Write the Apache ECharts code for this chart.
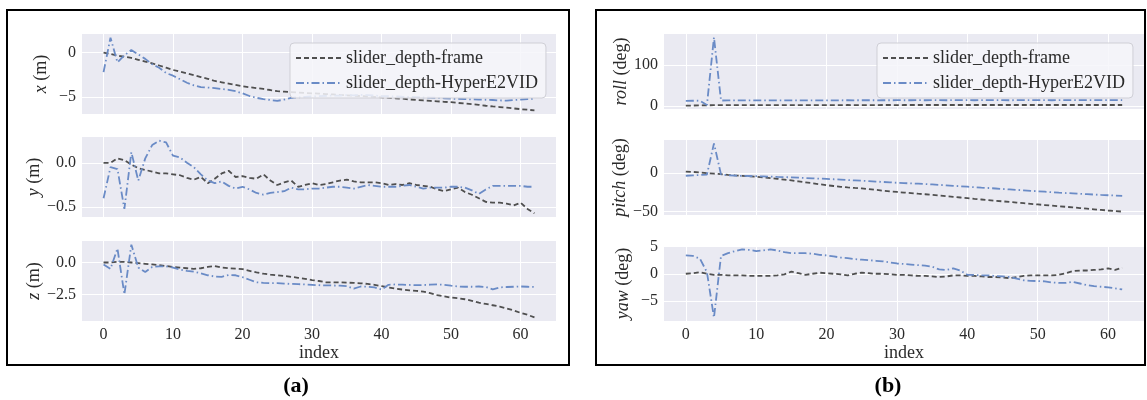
<!DOCTYPE html>
<html>
<head>
<meta charset="utf-8">
<script src="https://cdn.jsdelivr.net/npm/echarts@6/dist/echarts.min.js"></script>
<style>
  html, body { margin: 0; padding: 0; background: #ffffff; }
  #chart { width: 1147px; height: 400px; }
</style>
</head>
<body>
<div id="chart"></div>
<script>
// Frame index along the trajectory
const index = [0,1,2,3,4,5,6,7,8,9,10,11,12,13,14,15,16,17,18,19,20,21,22,23,24,25,26,27,28,29,30,
  31,32,33,34,35,36,37,38,39,40,41,42,43,44,45,46,47,48,49,50,51,52,53,54,55,56,57,58,59,60,61,62];
const indexTicks = [0, 10, 20, 30, 40, 50, 60];

// Translation (m)
const xFrame = [0.00,-0.15,-0.35,-0.45,-0.60,-0.80,-1.00,-1.20,-1.45,-1.70,-1.95,-2.15,-2.35,-2.55,-2.75,-2.95,
  -3.20,-3.35,-3.50,-3.65,-3.80,-3.90,-4.00,-4.10,-4.22,-4.35,-4.40,-4.45,-4.50,-4.55,-4.60,-4.62,-4.68,-4.72,
  -4.78,-4.82,-4.86,-4.90,-4.95,-5.00,-5.05,-5.10,-5.15,-5.20,-5.28,-5.35,-5.40,-5.45,-5.50,-5.55,-5.60,-5.68,
  -5.75,-5.82,-5.90,-6.00,-6.08,-6.15,-6.22,-6.30,-6.38,-6.45,-6.52];
const xHyper = [-2.20,1.70,-1.10,-0.30,0.30,-0.20,-0.70,-1.30,-1.70,-2.30,-2.60,-3.00,-3.40,-3.70,-3.90,-3.95,
  -4.00,-4.10,-4.20,-4.35,-4.60,-4.90,-5.10,-5.25,-5.35,-5.45,-5.30,-5.10,-5.05,-5.00,-4.95,-4.92,-4.88,-4.85,
  -4.85,-4.80,-4.82,-4.78,-4.80,-4.85,-4.90,-4.92,-4.95,-4.98,-5.00,-5.02,-5.05,-5.08,-5.10,-5.15,-5.20,-5.22,
  -5.25,-5.28,-5.30,-5.32,-5.35,-5.40,-5.42,-5.35,-5.30,-5.25,-5.20];
const xTicks = [-5, 0];

const yFrame = [0.00,0.00,0.05,0.03,-0.02,-0.06,-0.08,-0.10,-0.12,-0.12,-0.13,-0.14,-0.17,-0.19,-0.16,-0.23,
  -0.18,-0.12,-0.09,-0.16,-0.15,-0.17,-0.18,-0.13,-0.20,-0.25,-0.22,-0.20,-0.27,-0.25,-0.23,-0.25,-0.24,-0.22,
  -0.20,-0.19,-0.21,-0.22,-0.22,-0.22,-0.23,-0.25,-0.24,-0.25,-0.23,-0.25,-0.26,-0.27,-0.30,-0.32,-0.30,-0.28,
  -0.33,-0.36,-0.40,-0.44,-0.45,-0.45,-0.46,-0.48,-0.45,-0.52,-0.57];
const yHyper = [-0.40,-0.05,-0.07,-0.52,0.12,-0.20,0.05,0.20,0.25,0.23,0.08,0.06,0.00,-0.05,-0.13,-0.20,
  -0.23,-0.21,-0.26,-0.29,-0.27,-0.30,-0.34,-0.36,-0.34,-0.33,-0.32,-0.28,-0.30,-0.30,-0.29,-0.29,-0.28,-0.27,
  -0.27,-0.28,-0.29,-0.27,-0.25,-0.26,-0.27,-0.27,-0.27,-0.26,-0.25,-0.27,-0.29,-0.28,-0.28,-0.28,-0.27,-0.27,
  -0.28,-0.31,-0.35,-0.30,-0.26,-0.26,-0.26,-0.26,-0.26,-0.27,-0.27];
const yTicks = [-0.5, 0.0];

const zFrame = [0.00,0.00,0.05,0.05,0.00,-0.05,-0.10,-0.15,-0.20,-0.28,-0.35,-0.40,-0.45,-0.50,-0.45,-0.35,
  -0.28,-0.40,-0.45,-0.48,-0.52,-0.65,-0.78,-0.88,-0.95,-1.00,-1.05,-1.12,-1.20,-1.28,-1.38,-1.45,-1.55,-1.55,
  -1.56,-1.58,-1.60,-1.63,-1.68,-1.75,-1.85,-1.95,-2.05,-2.12,-2.18,-2.22,-2.28,-2.40,-2.55,-2.65,-2.75,-2.80,
  -2.88,-3.00,-3.15,-3.25,-3.35,-3.45,-3.60,-3.75,-3.95,-4.10,-4.30];
const zHyper = [-0.15,-0.50,1.10,-2.50,1.40,-0.40,-0.75,-0.35,-0.30,-0.30,-0.40,-0.55,-0.65,-0.72,-0.85,-1.00,
  -1.10,-1.12,-0.98,-1.00,-1.15,-1.35,-1.55,-1.60,-1.62,-1.62,-1.65,-1.68,-1.70,-1.72,-1.75,-1.78,-1.80,-1.80,
  -1.82,-1.85,-2.05,-1.88,-1.90,-1.95,-2.12,-1.75,-1.72,-1.74,-1.76,-1.78,-1.77,-1.74,-1.72,-1.75,-1.82,-1.88,
  -1.90,-1.90,-1.88,-1.92,-2.10,-1.95,-1.92,-1.90,-1.88,-1.90,-1.92];
const zTicks = [-2.5, 0.0];

// Rotation (deg)
const rollFrame = [1.0,1.2,1.5,1.8,2.0,2.0,2.1,2.0,2.1,2.2,2.1,2.2,2.2,2.1,2.2,2.3,2.2,2.3,2.2,2.3,2.3,2.2,
  2.3,2.4,2.3,2.3,2.4,2.3,2.4,2.4,2.3,2.4,2.4,2.5,2.4,2.4,2.5,2.4,2.5,2.5,2.4,2.5,2.5,2.4,2.5,2.5,2.5,2.4,2.5,
  2.5,2.5,2.4,2.5,2.5,2.5,2.5,2.4,2.5,2.5,2.5,2.5,2.5,2.5];
const rollHyper = [12.5,12.8,13.0,2.5,168.0,13.5,13.6,13.7,13.6,13.7,13.8,13.7,13.8,13.8,13.9,13.8,13.9,13.9,
  14.0,13.9,14.0,14.0,14.0,14.1,14.0,14.1,14.1,14.0,14.1,14.1,14.2,14.1,14.1,14.2,14.1,14.2,14.2,14.1,14.2,
  14.2,14.2,14.1,14.2,14.2,14.2,14.2,14.1,14.2,14.2,14.2,14.2,14.2,14.1,14.2,14.2,14.2,14.2,14.2,14.2,14.2,
  14.2,14.2,14.2];
const rollTicks = [0, 100];

const pitchFrame = [2.0,1.5,0.8,0.0,-0.8,-1.5,-2.3,-3.0,-3.6,-4.2,-4.8,-5.6,-6.5,-7.5,-8.5,-9.6,-10.8,-12.0,
  -13.2,-14.5,-15.8,-16.8,-17.8,-18.6,-19.3,-19.9,-20.8,-21.8,-22.8,-23.8,-24.5,-25.3,-26.0,-26.8,-27.5,-28.3,
  -29.1,-29.9,-30.8,-31.7,-32.6,-33.5,-34.3,-35.1,-35.9,-36.7,-37.5,-38.3,-39.1,-39.9,-40.7,-41.5,-42.3,-43.0,
  -43.8,-44.6,-45.4,-46.2,-47.0,-47.8,-48.6,-49.3,-50.0];
const pitchHyper = [-3.5,-3.0,-2.5,-2.0,38.5,-1.8,-3.0,-3.4,-3.6,-3.8,-4.0,-4.3,-4.6,-5.0,-5.3,-5.6,-6.0,-6.4,
  -6.8,-7.2,-7.6,-8.0,-8.5,-9.0,-9.5,-10.0,-10.5,-11.0,-11.5,-12.0,-12.6,-13.0,-13.4,-13.8,-14.3,-14.8,-15.3,
  -15.9,-16.5,-17.1,-17.7,-18.3,-18.9,-19.4,-20.0,-20.6,-21.2,-21.8,-22.4,-23.0,-23.6,-24.2,-24.8,-25.4,-25.9,
  -26.4,-26.9,-27.4,-27.9,-28.4,-28.8,-29.2,-29.6];
const pitchTicks = [-50, 0];

const yawFrame = [0.0,0.1,0.3,0.0,-0.2,-0.2,-0.3,-0.3,-0.3,-0.4,-0.4,-0.4,-0.4,-0.3,-0.1,0.4,0.1,-0.2,0.0,0.2,
  0.1,0.0,-0.1,-0.3,0.0,0.2,0.1,0.0,0.0,-0.1,-0.2,-0.2,-0.3,-0.4,-0.4,-0.5,-0.6,-0.5,-0.3,-0.3,-0.4,-0.4,-0.5,
  -0.6,-0.6,-0.7,-0.8,-0.6,-0.4,-0.3,-0.3,-0.3,-0.3,-0.2,0.1,0.5,0.6,0.6,0.7,0.8,1.0,0.7,1.1];
const yawHyper = [3.4,3.3,2.8,0.3,-8.1,3.3,3.8,4.2,4.5,4.4,4.2,4.3,4.5,4.3,4.0,3.8,3.8,3.8,3.7,3.5,3.4,3.2,3.0,
  2.9,2.7,2.6,2.5,2.4,2.3,2.1,1.9,1.8,1.7,1.6,1.5,1.3,0.8,0.7,1.0,0.6,-0.2,-0.2,-0.3,-0.3,-0.4,-0.5,-0.6,-0.9,
  -1.2,-1.3,-1.35,-1.4,-1.6,-1.7,-1.7,-1.5,-1.8,-2.1,-2.3,-2.4,-2.5,-2.7,-2.9];
const yawTicks = [-5, 0, 5];

const seriesNames = ['slider_depth-frame', 'slider_depth-HyperE2VID'];

const SERIF = "'Liberation Serif', 'DejaVu Serif', serif";
const TEXT = '#2a2a2a';
const FRAME_COLOR = '#4f4f4f';
const HYPER_COLOR = '#6a8bc6';

// Axis limits padded by 5% of the data span
function padded(arrs) {
  const all = [].concat(...arrs);
  const lo = Math.min(...all), hi = Math.max(...all);
  const pad = (hi - lo) * 0.05;
  return [lo - pad, hi + pad];
}
const xLim = padded([index]);

function fmt(v, d) {
  return v.toFixed(d).replace('-', '\u2212');
}

// Subplot descriptions: data, tick values, decimals, axis title and grid box
const panels = [
  { f: xFrame, h: xHyper, ticks: xTicks, dec: 0, v: 'x', unit: '(m)', left: 82, width: 474, top: 34, height: 80, bottom: false },
  { f: yFrame, h: yHyper, ticks: yTicks, dec: 1, v: 'y', unit: '(m)', left: 82, width: 474, top: 137, height: 80, bottom: false },
  { f: zFrame, h: zHyper, ticks: zTicks, dec: 1, v: 'z', unit: '(m)', left: 82, width: 474, top: 241, height: 80, bottom: true },
  { f: rollFrame, h: rollHyper, ticks: rollTicks, dec: 0, v: 'roll', unit: '(deg)', left: 664, width: 480, top: 34, height: 75, bottom: false },
  { f: pitchFrame, h: pitchHyper, ticks: pitchTicks, dec: 0, v: 'pitch', unit: '(deg)', left: 664, width: 480, top: 140, height: 75, bottom: false },
  { f: yawFrame, h: yawHyper, ticks: yawTicks, dec: 0, v: 'yaw', unit: '(deg)', left: 664, width: 480, top: 246, height: 75, bottom: true }
];

const grids = [], xAxes = [], yAxes = [], series = [];
panels.forEach((p, k) => {
  grids.push({
    left: p.left, top: p.top, width: p.width, height: p.height,
    show: true, backgroundColor: '#EAEAF2', borderWidth: 0, containLabel: false
  });
  xAxes.push({
    type: 'value', gridIndex: k, min: xLim[0], max: xLim[1],
    axisLine: { show: false }, axisTick: { show: false }, splitLine: { show: false },
    axisLabel: {
      show: p.bottom, customValues: indexTicks, margin: 6,
      fontFamily: SERIF, fontSize: 16, color: TEXT
    },
    name: p.bottom ? 'index' : '', nameLocation: 'middle', nameGap: 22,
    nameTextStyle: { fontFamily: SERIF, fontSize: 18, color: TEXT }
  });
  const lim = padded([p.f, p.h]);
  yAxes.push({
    type: 'value', gridIndex: k, min: lim[0], max: lim[1],
    axisLine: { show: false }, axisTick: { show: false }, splitLine: { show: false },
    axisLabel: {
      customValues: p.ticks, margin: 6,
      fontFamily: SERIF, fontSize: 16, color: TEXT,
      formatter: (v) => fmt(v, p.dec)
    },
    name: '{v|' + p.v + '} ' + p.unit, nameLocation: 'middle', nameGap: 32,
    nameTextStyle: {
      fontFamily: SERIF, fontSize: 18, color: TEXT,
      rich: { v: { fontFamily: SERIF, fontSize: 18, fontStyle: 'italic', color: TEXT } }
    }
  });
  const pts = (arr) => index.map((i, j) => [i, arr[j]]);
  series.push({
    type: 'line', name: seriesNames[0], xAxisIndex: k, yAxisIndex: k,
    data: pts(p.f), showSymbol: false, symbol: 'none', z: 3,
    lineStyle: { color: FRAME_COLOR, width: 1.8, type: [5, 3] },
    itemStyle: { color: FRAME_COLOR },
    emphasis: { disabled: true },
    markLine: {
      silent: true, symbol: ['none', 'none'], z: 1, animation: false,
      label: { show: false }, emphasis: { disabled: true },
      lineStyle: { color: '#ffffff', width: 1, type: 'solid', opacity: 1 },
      data: indexTicks.map(v => ({ xAxis: v })).concat(p.ticks.map(v => ({ yAxis: v })))
    }
  });
  series.push({
    type: 'line', name: seriesNames[1], xAxisIndex: k, yAxisIndex: k,
    data: pts(p.h), showSymbol: false, symbol: 'none', z: 3,
    lineStyle: { color: HYPER_COLOR, width: 1.8, type: [8, 3, 1.5, 3] },
    itemStyle: { color: HYPER_COLOR },
    emphasis: { disabled: true }
  });
});

// Legend keys show only the line sample (the marker is made transparent)
function legendAt(left) {
  return {
    left: left, top: 43, orient: 'vertical', data: seriesNames,
    itemWidth: 45, itemHeight: 12, itemGap: 7, padding: [6, 8, 6, 5],
    backgroundColor: 'rgba(246,246,250,0.85)', borderColor: '#cfcfd6', borderWidth: 1, borderRadius: 4,
    itemStyle: { opacity: 0, borderWidth: 0 },
    textStyle: { fontFamily: SERIF, fontSize: 18, color: TEXT },
    selectedMode: false
  };
}

const chart = echarts.init(document.getElementById('chart'), null, { renderer: 'canvas' });
chart.setOption({
  animation: false,
  backgroundColor: '#ffffff',
  grid: grids,
  xAxis: xAxes,
  yAxis: yAxes,
  legend: [legendAt(290), legendAt(877)],
  series: series,
  graphic: [
    { type: 'rect', shape: { x: 7, y: 10, width: 562, height: 355 }, style: { fill: 'none', stroke: '#000', lineWidth: 2 }, z: 10, silent: true },
    { type: 'rect', shape: { x: 596, y: 10, width: 549, height: 355 }, style: { fill: 'none', stroke: '#000', lineWidth: 2 }, z: 10, silent: true },
    { type: 'text', x: 296, y: 386, style: { text: '(a)', fontFamily: SERIF, fontWeight: 'bold', fontSize: 22, fill: '#000', align: 'center', verticalAlign: 'middle' }, silent: true },
    { type: 'text', x: 888, y: 386, style: { text: '(b)', fontFamily: SERIF, fontWeight: 'bold', fontSize: 22, fill: '#000', align: 'center', verticalAlign: 'middle' }, silent: true }
  ]
});
</script>
</body>
</html>
